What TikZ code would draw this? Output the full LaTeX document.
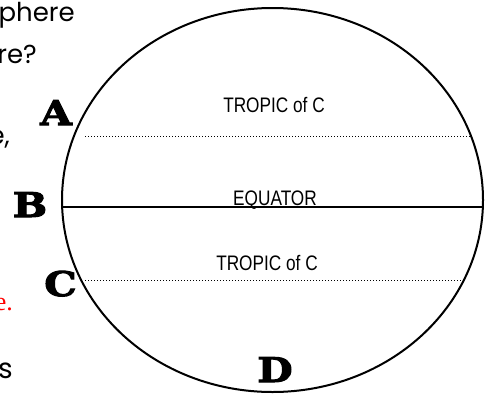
\documentclass[tikz,border=0pt]{standalone}
\usepackage{fontspec}
\usepackage{xcolor}
\colorlet{myred}{red}
\newfontfamily\bandfont[FakeStretch=0.82]{Liberation Sans}
\newfontface\pointfont[FakeStretch=1.2,FakeBold=3]{DejaVu Serif Bold}
\newfontfamily\handfont{Poppins}
\newfontfamily\notefont{Liberation Serif}
\usepackage{tikz}
\tikzset{
  bandlabel/.style={font=\bandfont\fontsize{21}{24}\selectfont,inner sep=0pt,anchor=base},
  pointlabel/.style={font=\pointfont\fontsize{34}{38}\selectfont,inner sep=0pt,anchor=base},
  handtext/.style={font=\handfont\fontsize{26}{30}\selectfont,inner sep=0pt,anchor=base east},
  tropic/.style={line width=1pt,dash pattern=on 1pt off 2pt},
}

\begin{document}
\begin{tikzpicture}[x=1pt,y=-1pt]
        \useasboundingbox (0,0) rectangle (486,394);
        % cut-off lines of the worksheet text on the left
        \node[handtext] (fragA) at (75,21) {phere};
        \node[handtext] (fragB) at (37,63) {re?};
        \node[handtext] (fragC) at (10,144) {e,};
        \node[handtext,font=\handfont\fontsize{32}{34}\selectfont] (fragD) at (3,182) {l};
        \node[handtext,font=\notefont\fontsize{26}{30}\selectfont,myred] (fragE) at (13,310) {e.};
        \node[handtext,font=\handfont\fontsize{28}{32}\selectfont] (fragF) at (13,378) {s};
        % the globe
        \draw[line width=2pt] (272.5,200) ellipse [x radius=210.5pt,y radius=192pt];
        \coordinate (eqW) at (62.2,207);
        \coordinate (eqE) at (482.8,207);
        \coordinate (tropNW) at (85,136);
        \coordinate (tropNE) at (470,136);
        \coordinate (tropSW) at (85,280);
        \coordinate (tropSE) at (465,280);
        \draw[line width=1.5pt] (eqW) -- (eqE);
        \draw[tropic] (tropNW) -- (tropNE);
        \draw[tropic] (tropSW) -- (tropSE);
        \node[bandlabel] (tropN) at (274,112) {TROPIC of C};
        \node[bandlabel] (equator) at (275,205) {EQUATOR};
        \node[bandlabel] (tropS) at (267,270) {TROPIC of C};
        % letters
        \node[pointlabel] (ptA) at (56,125) {A};
        \node[pointlabel] (ptB) at (30,217) {B};
        \node[pointlabel] (ptC) at (60.5,296) {C};
        \node[pointlabel] (ptD) at (275,382) {D};
      \end{tikzpicture}
\end{document}
